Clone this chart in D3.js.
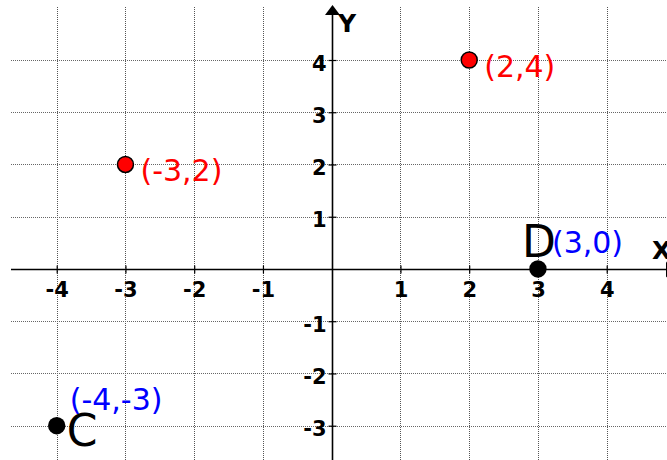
<!DOCTYPE html>
<html>
<head>
<meta charset="utf-8">
<script src="https://cdn.jsdelivr.net/npm/d3@7"></script>
<style>
  html, body { margin: 0; padding: 0; background: #fff; }
  svg { display: block; }
</style>
</head>
<body>
<svg id="chart" width="667" height="460"></svg>
<script>
// ---- data ----
const xTicks = [-4, -3, -2, -1, 1, 2, 3, 4];
const xTickLabels = ["-4", "-3", "-2", "-1", "1", "2", "3", "4"];
const yTicks = [4, 3, 2, 1, -1, -2, -3];
const yTickLabels = ["4", "3", "2", "1", "-1", "-2", "-3"];
const redPointX = [-3, 2];
const redPointY = [2, 4];
const redPointLabels = ["(-3,2)", "(2,4)"];
const blackPointX = [-4, 3];
const blackPointY = [-3, 0];
const blackPointNames = ["C", "D"];
const blackPointLabels = ["(-4,-3)", "(3,0)"];

const W = 667, H = 460;
const svg = d3.select("#chart");

const x = d3.scaleLinear().domain([-4, 4]).range([56.7, 606.7]);
const y = d3.scaleLinear().domain([-3, 4]).range([425.7, 60]);

const x0 = x(0), y0 = y(0);
const snap = v => Math.round(v) + 0.5;

// ---- grid ----
const grid = svg.append("g");
grid.selectAll("line.v").data(xTicks).join("line")
  .attr("x1", d => snap(x(d))).attr("x2", d => snap(x(d)))
  .attr("y1", 7).attr("y2", H)
  .attr("stroke", "#555").attr("stroke-width", 1).attr("stroke-dasharray", "1,1");
grid.selectAll("line.h").data(yTicks).join("line")
  .attr("x1", 11).attr("x2", W)
  .attr("y1", d => snap(y(d))).attr("y2", d => snap(y(d)))
  .attr("stroke", "#666").attr("stroke-width", 1.2).attr("stroke-dasharray", "1,1");

// ---- axes ----
const fontTick = "'DejaVu Sans', Verdana, sans-serif";
const xAxis = d3.axisBottom(x).tickValues(xTicks)
  .tickFormat((d, i) => xTickLabels[i]).tickSize(4);
const gx = svg.append("g").attr("transform", `translate(0,${snap(y0)})`).call(xAxis);
gx.select(".domain").remove();
gx.selectAll(".tick line").attr("y1", -4).attr("y2", 4).attr("stroke", "#000").attr("stroke-width", 1.2);
gx.selectAll(".tick text").attr("y", 27).attr("dy", 0)
  .attr("font-family", fontTick).attr("font-weight", "bold").attr("font-size", 21).attr("fill", "#000");

const yAxis = d3.axisLeft(y).tickValues(yTicks)
  .tickFormat((d, i) => yTickLabels[i]).tickSize(4);
const gy = svg.append("g").attr("transform", `translate(${snap(x0)},0)`).call(yAxis);
gy.select(".domain").remove();
gy.selectAll(".tick line").attr("x1", -4).attr("x2", 4).attr("stroke", "#000").attr("stroke-width", 1.2);
gy.selectAll(".tick text").attr("x", -6).attr("dy", 0).attr("y", 10)
  .attr("text-anchor", "end")
  .attr("font-family", fontTick).attr("font-weight", "bold").attr("font-size", 21).attr("fill", "#000");

// axis lines
svg.append("line").attr("x1", 11).attr("x2", W).attr("y1", snap(y0)).attr("y2", snap(y0))
  .attr("stroke", "#000").attr("stroke-width", 1.6);
svg.append("line").attr("x1", snap(x0)).attr("x2", snap(x0)).attr("y1", 14).attr("y2", H)
  .attr("stroke", "#000").attr("stroke-width", 1.6);
// arrows
const ax = snap(x0), ay = snap(y0);
svg.append("path").attr("d", `M${ax},5 L${ax - 7.5},15 L${ax + 7.5},15 Z`).attr("fill", "#000");
svg.append("path").attr("d", `M${W + 8},${ay} L${W - 1},${ay - 8} L${W - 1},${ay + 8} Z`).attr("fill", "#000");

// axis names
svg.append("text").attr("x", 338).attr("y", 32).text("Y")
  .attr("font-family", fontTick).attr("font-weight", "bold").attr("font-size", 25).attr("fill", "#000");
svg.append("text").attr("x", 652).attr("y", 259).text("X")
  .attr("font-family", fontTick).attr("font-weight", "bold").attr("font-size", 25).attr("fill", "#000");

// ---- red points ----
const labFont = "'DejaVu Sans', Verdana, sans-serif";
const red = redPointX.map((d, i) => ({ x: d, y: redPointY[i], label: redPointLabels[i] }));
svg.selectAll("circle.red").data(red).join("circle")
  .attr("cx", d => x(d.x)).attr("cy", d => y(d.y)).attr("r", 8)
  .attr("fill", "#ff0000").attr("stroke", "#000").attr("stroke-width", 1.5);
svg.selectAll("text.red").data(red).join("text")
  .attr("x", d => x(d.x) + 15).attr("y", d => y(d.y) + 17)
  .text(d => d.label)
  .attr("font-family", labFont).attr("font-size", 30).attr("fill", "#ff0000");

// ---- black points ----
const blk = blackPointX.map((d, i) => ({ x: d, y: blackPointY[i], name: blackPointNames[i], label: blackPointLabels[i] }));
svg.selectAll("circle.blk").data(blk).join("circle")
  .attr("cx", d => x(d.x)).attr("cy", d => y(d.y)).attr("r", 8.7)
  .attr("fill", "#000");
// C
const c = blk[0], dd = blk[1];
svg.append("text").attr("x", x(c.x) + 10).attr("y", y(c.y) + 20).text(c.name)
  .attr("font-family", labFont).attr("font-size", 44).attr("fill", "#000");
svg.append("text").attr("x", x(c.x) + 13).attr("y", y(c.y) - 16).text(c.label)
  .attr("font-family", labFont).attr("font-size", 30).attr("fill", "#0000ff");
// D
svg.append("text").attr("x", x(dd.x) + 1).attr("y", y(dd.y) - 12).text(dd.name)
  .attr("text-anchor", "middle")
  .attr("font-family", labFont).attr("font-size", 44).attr("fill", "#000");
svg.append("text").attr("x", x(dd.x) + 14).attr("y", y(dd.y) - 16).text(dd.label)
  .attr("font-family", labFont).attr("font-size", 30).attr("fill", "#0000ff");
</script>
</body>
</html>
